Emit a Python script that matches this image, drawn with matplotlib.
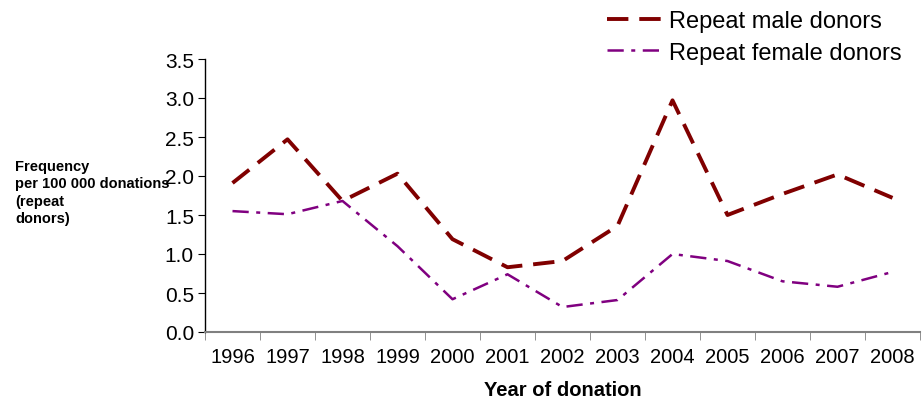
import matplotlib
matplotlib.use("Agg")
import matplotlib.pyplot as plt
import numpy as np

years = ["1996", "1997", "1998", "1999", "2000", "2001", "2002",
         "2003", "2004", "2005", "2006", "2007", "2008"]
male = [1.91, 2.47, 1.68, 2.03, 1.19, 0.83, 0.91, 1.36, 2.97, 1.50, 1.77, 2.02, 1.72]
female = [1.55, 1.51, 1.68, 1.10, 0.42, 0.74, 0.32, 0.41, 1.00, 0.91, 0.65, 0.58, 0.77]

plt.rcParams["font.family"] = ["Liberation Sans", "DejaVu Sans"]

fig = plt.figure(figsize=(9.22, 4.06), dpi=100)
ax = fig.add_axes([205 / 922, 73 / 406, 715 / 922, 273 / 406])

x = np.arange(len(years))
ax.plot(x, male, color="#800000", lw=2.8, dashes=(5.5, 2.8),
        label="Repeat male donors")
ax.plot(x, female, color="#800080", lw=1.8, dashes=(6.5, 3, 1.6, 3),
        label="Repeat female donors")

ax.set_xlim(-0.5, len(years) - 0.5)
ax.set_ylim(0, 3.5)
yt = np.arange(0, 3.51, 0.5)
ax.set_yticks(yt)
ax.set_yticklabels([f"{v:.1f}" for v in yt], fontsize=15)
ax.set_xticks(x)
ax.set_xticklabels(years, fontsize=14.5)
ax.set_xticks(np.arange(-0.5, len(years), 1), minor=True)
ax.tick_params(axis="x", which="major", length=0, pad=11)
ax.tick_params(axis="x", which="minor", length=6, color="#808080", direction="out")
ax.tick_params(axis="y", length=5, direction="out", pad=3)

for s in ("top", "right"):
    ax.spines[s].set_visible(False)
ax.spines["bottom"].set_color("#808080")
ax.spines["bottom"].set_linewidth(1.5)
ax.spines["left"].set_linewidth(1.0)

ax.set_xlabel("Year of donation", fontsize=14.5, fontweight="bold", labelpad=10)
fig.text(15 / 922, 213 / 406, "Frequency\nper 100 000 donations\n(repeat\ndonors)",
         fontsize=10.5, fontweight="bold", ha="left", va="center", linespacing=1.3)

fig.legend(loc="upper left", bbox_to_anchor=(586 / 922, 1.025), frameon=False,
           fontsize=17, handlelength=2.35, handletextpad=0.25, labelspacing=0.4)

fig.savefig("out.png", dpi=100)
